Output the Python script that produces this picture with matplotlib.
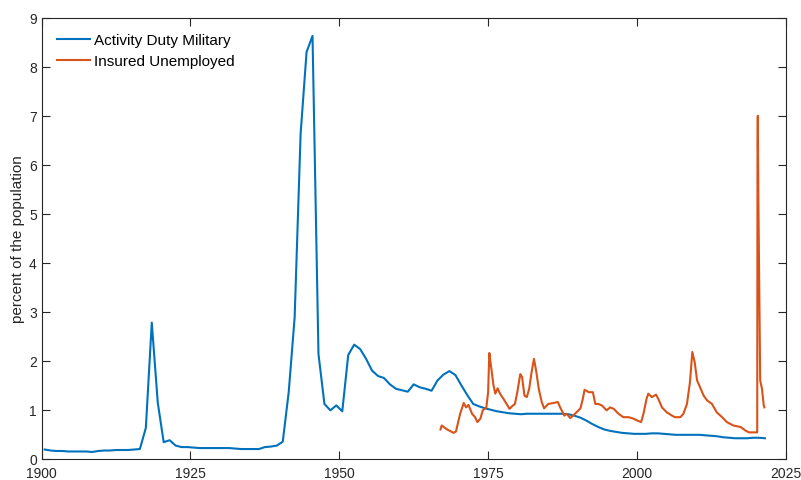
import matplotlib
matplotlib.use('Agg')
import matplotlib.pyplot as plt
import numpy as np

plt.rcParams['font.family'] = ['Liberation Sans', 'DejaVu Sans']

# active duty military, percent of population (annual, plotted mid-year)
mil_years = np.arange(1900, 2022)
mil_vals = [0.19, 0.17, 0.16, 0.16, 0.15, 0.15, 0.15, 0.15, 0.14, 0.16,
            0.17, 0.17, 0.18, 0.18, 0.18, 0.19, 0.20, 0.63, 2.78, 1.15,
            0.34, 0.38, 0.27, 0.24, 0.24, 0.23, 0.22, 0.22, 0.22, 0.22,
            0.22, 0.22, 0.21, 0.20, 0.20, 0.20, 0.20, 0.24, 0.25, 0.27,
            0.35, 1.36, 2.89, 6.63, 8.30, 8.63, 2.14, 1.12, 0.99, 1.09,
            0.97, 2.12, 2.33, 2.24, 2.04, 1.80, 1.69, 1.65, 1.52, 1.43,
            1.40, 1.37, 1.52, 1.46, 1.43, 1.39, 1.60, 1.72, 1.79, 1.71,
            1.50, 1.30, 1.12, 1.07, 1.03, 1.00, 0.97, 0.95, 0.93, 0.92,
            0.91, 0.92, 0.92, 0.92, 0.92, 0.92, 0.92, 0.92, 0.91, 0.88,
            0.84, 0.78, 0.71, 0.65, 0.60, 0.57, 0.55, 0.53, 0.52, 0.51,
            0.51, 0.51, 0.52, 0.52, 0.51, 0.50, 0.49, 0.49, 0.49, 0.49,
            0.49, 0.48, 0.47, 0.46, 0.44, 0.43, 0.42, 0.42, 0.42, 0.43,
            0.43, 0.42]

# insured unemployed, percent of population
ui_dates = [1967.0, 1967.2, 1968.1, 1969.2, 1969.6, 1970.3, 1970.9, 1971.3,
            1971.7, 1972.3, 1972.8, 1973.2, 1973.7, 1974.1, 1974.7, 1975.0,
            1975.2, 1975.4, 1975.9, 1976.2, 1976.6, 1977.0, 1977.6, 1978.1,
            1978.6, 1979.0, 1979.5, 1979.9, 1980.4, 1980.7, 1981.1, 1981.5,
            1981.9, 1982.3, 1982.7, 1983.1, 1983.5, 1984.0, 1984.4, 1985.1,
            1986.0, 1986.7, 1987.1, 1987.8, 1988.2, 1988.8, 1989.6, 1990.5,
            1990.9, 1991.2, 1991.9, 1992.6, 1993.0, 1993.5, 1994.1, 1994.9,
            1995.5, 1996.1, 1996.9, 1997.7, 1998.6, 1999.4, 2000.1, 2000.7,
            2001.1, 2001.6, 2001.9, 2002.5, 2003.2, 2003.6, 2004.2, 2005.0,
            2005.9, 2006.4, 2007.3, 2007.8, 2008.4, 2008.9, 2009.3, 2009.7,
            2010.1, 2010.6, 2011.2, 2011.8, 2012.6, 2013.4, 2014.3, 2015.1,
            2016.2, 2017.4, 2018.2, 2018.8, 2020.0, 2020.2, 2020.25, 2020.3,
            2020.4, 2020.5, 2020.7, 2021.0, 2021.3, 2021.4]
ui_vals = [0.60, 0.68, 0.60, 0.53, 0.56, 0.92, 1.14, 1.05,
           1.10, 0.92, 0.85, 0.75, 0.82, 0.99, 1.05, 1.36,
           2.16, 1.97, 1.50, 1.33, 1.44, 1.33, 1.22, 1.12,
           1.02, 1.07, 1.12, 1.36, 1.73, 1.67, 1.29, 1.26,
           1.43, 1.77, 2.04, 1.77, 1.43, 1.16, 1.03, 1.12,
           1.14, 1.16, 1.05, 0.88, 0.92, 0.83, 0.92, 1.03,
           1.22, 1.41, 1.36, 1.36, 1.12, 1.12, 1.09, 0.99,
           1.05, 1.02, 0.92, 0.85, 0.85, 0.82, 0.78, 0.75,
           0.92, 1.22, 1.33, 1.26, 1.31, 1.22, 1.05, 0.95,
           0.88, 0.85, 0.85, 0.92, 1.12, 1.56, 2.18, 1.97,
           1.60, 1.46, 1.29, 1.19, 1.12, 0.95, 0.85, 0.75,
           0.68, 0.65, 0.58, 0.54, 0.54, 0.54, 6.40, 7.00,
           5.24, 4.05, 1.60, 1.43, 1.09, 1.05]

fig = plt.figure(figsize=(8.01, 4.81), dpi=100)
ax = fig.add_axes([0.052, 0.044, 0.929, 0.917])

ax.plot(mil_years + 0.5, mil_vals, color='#0072BD', lw=1.5, label='Activity Duty Military')
ax.plot(ui_dates, ui_vals, color='#D95319', lw=1.5, label='Insured Unemployed')

ax.set_xlim(1900, 2025)
ax.set_ylim(0, 9)
ax.set_xticks(np.arange(1900, 2026, 25))
ax.set_yticks(np.arange(0, 10, 1))
ax.tick_params(direction='in', top=True, right=True, length=6, width=0.8,
               colors='#262626', labelsize=10)
ax.tick_params(axis='x', pad=5.5)
for s in ax.spines.values():
    s.set_color('#262626')
    s.set_linewidth(0.8)
ax.set_ylabel('percent of the population', fontsize=11, color='#262626', labelpad=3)
ax.legend(loc='upper left', frameon=False, fontsize=11, handlelength=2.15,
          handletextpad=0.25, labelspacing=0.45, borderaxespad=0.6)

plt.savefig('out.png', dpi=100)
